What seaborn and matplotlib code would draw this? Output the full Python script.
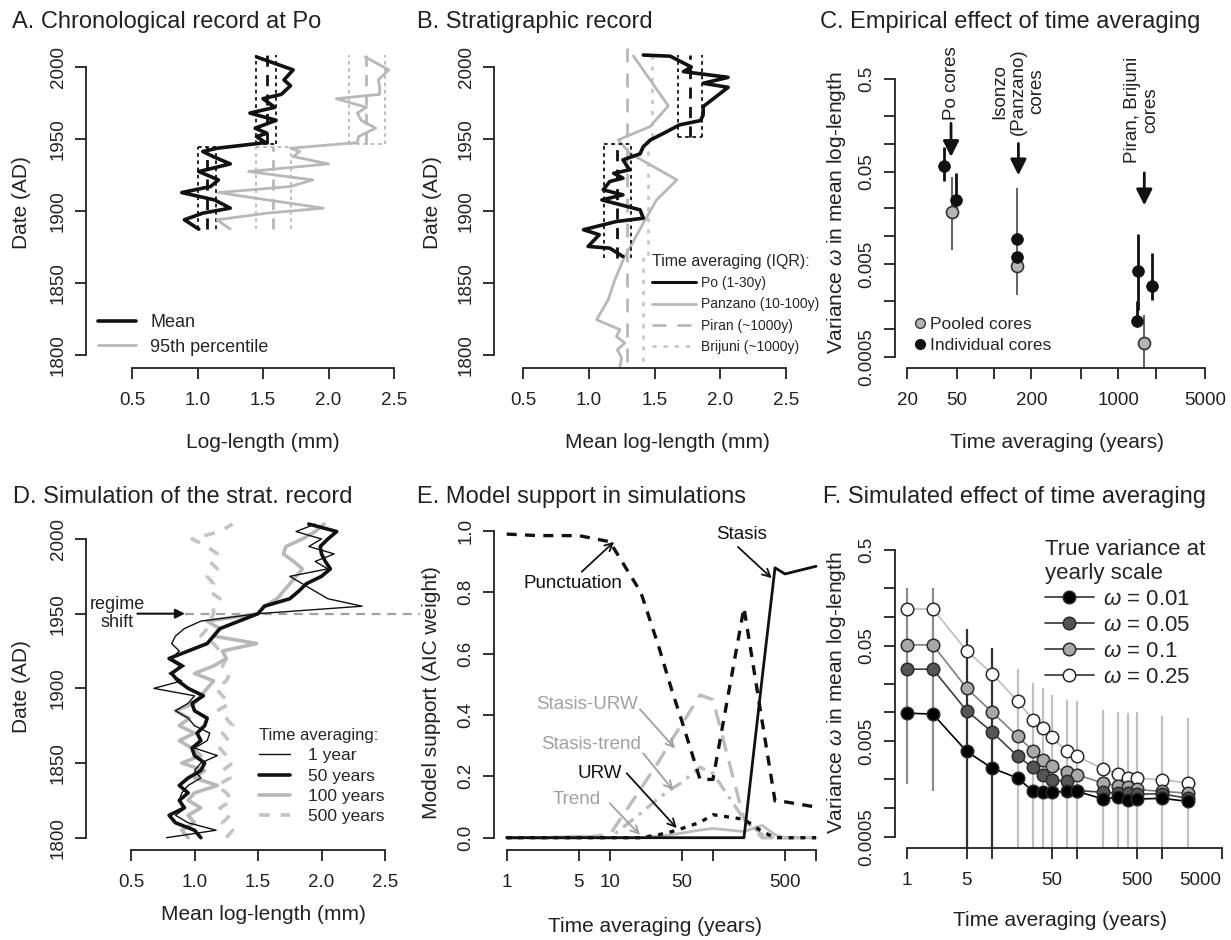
import numpy as np
import matplotlib
matplotlib.use("Agg")
import matplotlib.pyplot as plt
from matplotlib.lines import Line2D
from matplotlib.ticker import NullLocator
import seaborn as sns

# ---------------- data ----------------
# A. chronological record at Po (date vs log-length)
a_years = [2007, 1998, 1991, 1987, 1981, 1978, 1972, 1968, 1963, 1957.5, 1954, 1951.7, 1947.5,
           1943.6, 1941.3, 1937.8, 1932.7, 1927.4, 1921.6, 1917, 1912.8, 1907.7, 1902, 1898.5, 1893.9, 1887.4]
a_mean = [1.45, 1.73, 1.66, 1.71, 1.64, 1.50, 1.59, 1.40, 1.60, 1.44, 1.53, 1.45, 1.52,
          1.15, 1.04, 1.12, 1.25, 1.01, 1.16, 1.10, 0.88, 1.13, 1.25, 1.04, 0.90, 1.01]
a_p95 = [2.28, 2.46, 2.38, 2.39, 2.39, 2.06, 2.29, 2.22, 2.25, 2.36, 2.28, 2.23, 2.22,
         1.71, 1.78, 1.73, 2.00, 1.39, 1.88, 1.71, 1.16, 1.53, 1.96, 1.53, 1.15, 1.25]
a_regimes = [(1887.4, 1944.5), (1946.5, 2008)]
a_mean_iqr = [(1.00, 1.075, 1.14), (1.45, 1.53, 1.60)]
a_p95_iqr = [(1.45, 1.58, 1.71), (2.16, 2.29, 2.43)]

# B. stratigraphic record
b_po_years = [2008.3, 2007.5, 2000, 1996.8, 1992.8, 1988.7, 1985.9, 1972.5, 1966.7, 1962.8, 1959.8, 1954,
              1949.4, 1944.7, 1939.7, 1935.5, 1928.6, 1926.2, 1922.8, 1920.5, 1914.7, 1911.2, 1907.7,
              1900.8, 1895, 1892.7, 1887, 1883.5, 1875.4, 1874.2, 1868.4]
b_po_mean = [1.415, 1.62, 1.78, 1.72, 2.06, 1.87, 2.06, 1.87, 1.87, 1.85, 1.69, 1.57,
             1.47, 1.415, 1.39, 1.26, 1.31, 1.19, 1.26, 1.16, 1.11, 1.26, 1.10,
             1.39, 1.415, 1.21, 0.96, 1.08, 0.995, 1.16, 1.26]
b_pan_years = [2007.6, 1973, 1958.6, 1949.4, 1940.1, 1921.6, 1907.7, 1891.6, 1866.1, 1852.3, 1838.4,
               1824.5, 1817.6, 1812.9, 1808.3, 1803.7, 1797.9, 1792.1]
b_pan_mean = [1.34, 1.605, 1.466, 1.224, 1.313, 1.67, 1.516, 1.415, 1.262, 1.199, 1.148,
              1.06, 1.237, 1.21, 1.275, 1.217, 1.25, 1.237]
b_piran_years = [2013, 1792]
b_piran_mean = [1.29, 1.29]
b_brij_years = [2008, 1949, 1949, 1870, 1870, 1795]
b_brij_mean = [1.48, 1.48, 1.45, 1.45, 1.415, 1.415]
b_regimes = [(1867.3, 1946.4), (1951.7, 2008)]
b_po_iqr = [(1.117, 1.217, 1.318), (1.677, 1.77, 1.865)]

# C. empirical effect of time averaging
c_ind_x = [39.5, 49.4, 154, 154, 1432, 1420, 1868]
c_ind_y = [0.0575, 0.0245, 0.00925, 0.00595, 0.0042, 0.00123, 0.00289]
c_ind_lo = [0.040, 0.0207, np.nan, np.nan, 0.0016, 0.00123, 0.00206]
c_ind_hi = [0.092, 0.0488, np.nan, np.nan, 0.0107, 0.0020, 0.00664]
c_pool_x = [45.6, 154, 1622]
c_pool_y = [0.0181, 0.00475, 0.000703]
c_pool_lo = [0.00715, 0.00233, 0.0001]
c_pool_hi = [0.0438, 0.0335, 0.00141]

# D. simulation of the stratigraphic record
d_years = [1800, 1805, 1810, 1815, 1820, 1825, 1830, 1835, 1840, 1845, 1850, 1855, 1860, 1865,
           1870, 1875, 1880, 1885, 1890, 1895, 1900, 1905, 1910, 1915, 1920, 1925, 1930, 1935,
           1940, 1945, 1950, 1955, 1960, 1965, 1970, 1975, 1980, 1985, 1990, 1995, 2000, 2005, 2010]
d_1yr = [0.78, 1.17, 0.95, 0.85, 0.93, 0.88, 0.90, 0.95, 1.05, 1.00, 1.05, 1.18, 1.00, 1.10,
         1.12, 1.00, 0.95, 0.85, 0.95, 1.00, 0.68, 0.90, 0.80, 0.92, 0.82, 0.88, 0.82, 0.85,
         0.92, 1.05, 1.50, 2.32, 2.05, 1.95, 1.85, 1.75, 2.05, 1.95, 2.10, 1.90, 2.00, 1.80, 1.95]
d_50yr = [1.05, 1.00, 0.85, 0.80, 0.92, 0.88, 0.95, 0.88, 0.95, 1.05, 1.08, 1.00, 0.98, 1.05,
          1.02, 1.08, 1.10, 1.00, 0.98, 1.07, 0.95, 0.87, 0.82, 0.90, 0.80, 0.95, 1.10, 1.15,
          1.20, 1.35, 1.50, 1.55, 1.75, 1.82, 1.88, 2.00, 2.07, 2.03, 2.00, 1.99, 2.05, 2.12, 1.90]
d_100yr = [0.95, 0.90, 1.00, 0.95, 1.05, 0.95, 1.00, 1.18, 1.00, 1.08, 0.90, 1.05, 0.98, 0.88,
           1.00, 0.88, 0.96, 0.85, 1.00, 1.05, 1.10, 1.15, 1.00, 1.15, 1.25, 1.22, 1.49, 1.15,
           1.20, 1.10, 1.50, 1.55, 1.65, 1.70, 1.75, 1.80, 1.85, 1.78, 1.70, 1.72, 1.85, 1.95, 2.02]
d_500yr = [1.25, 1.30, 1.22, 1.28, 1.20, 1.30, 1.25, 1.18, 1.28, 1.22, 1.30, 1.25, 1.20, 1.27,
           1.22, 1.30, 1.25, 1.18, 1.28, 1.22, 1.17, 1.25, 1.28, 1.22, 1.25, 1.20, 1.15, 1.05,
           1.10, 1.12, 1.15, 1.15, 1.20, 1.12, 1.15, 1.10, 1.18, 1.12, 1.18, 1.10, 0.98, 1.20, 1.30]
d_shift_year = 1950

# E. model support in simulations
e_x = [1, 2, 5, 10, 20, 30, 40, 50, 75, 100, 200, 300, 400, 500, 1000]
e_punct = [0.99, 0.985, 0.985, 0.965, 0.80, 0.62, 0.48, 0.38, 0.19, 0.19, 0.75, 0.38, 0.12, 0.117, 0.10]
e_stasis = [0, 0, 0, 0, 0, 0, 0, 0, 0, 0, 0, 0.52, 0.88, 0.86, 0.885]
e_urw = [0, 0, 0, 0, 0, 0.01, 0.02, 0.03, 0.05, 0.075, 0.06, 0.02, 0, 0, 0]
e_stasis_urw = [0, 0, 0, 0.01, 0.16, 0.25, 0.32, 0.37, 0.465, 0.45, 0.06, 0.0, 0, 0, 0]
e_stasis_trend = [0, 0, 0, 0, 0.08, 0.13, 0.16, 0.18, 0.23, 0.21, 0.06, 0.01, 0, 0, 0]
e_trend = [0, 0, 0.005, 0, 0, 0.005, 0.01, 0.015, 0.025, 0.03, 0.02, 0.04, 0.01, 0, 0]

# F. simulated effect of time averaging
f_x = [1, 2, 5, 10, 20, 30, 40, 50, 75, 100, 200, 300, 400, 500, 1000, 2000]
f_w001 = [0.0098, 0.0096, 0.0039, 0.0026, 0.00205, 0.00149, 0.00146, 0.00146, 0.00149, 0.00149,
          0.00124, 0.0013, 0.00122, 0.00124, 0.00126, 0.00117]
f_w005 = [0.0283, 0.0283, 0.0104, 0.0062, 0.00346, 0.00265, 0.00222, 0.00197, 0.0019, 0.00152,
          0.00146, 0.00143, 0.00143, 0.0014, 0.0014, 0.00126]
f_w01 = [0.0508, 0.0508, 0.0179, 0.0100, 0.0056, 0.00396, 0.00319, 0.00276, 0.00237, 0.00222,
         0.00182, 0.00171, 0.00166, 0.00156, 0.00149, 0.00143]
f_w025 = [0.120, 0.121, 0.044, 0.0253, 0.0130, 0.00836, 0.00684, 0.00546, 0.00396, 0.00346,
          0.00257, 0.00228, 0.00205, 0.00205, 0.00197, 0.00182]
f_hi = [0.199, 0.199, 0.0742, 0.0469, 0.0283, 0.0202, 0.0179, 0.0152, 0.0135, 0.0132,
        0.0106, 0.0102, 0.0098, 0.0100, 0.0091, 0.0088]
f_lo = [0.00177, 0.00149, 1e-6, 1e-6, 1e-6, 1e-6, 1e-6, 1e-6, 1e-6, 1e-6,
        1e-6, 1e-6, 1e-6, 1e-6, 1e-6, 1e-6]
f_labels = ["0.01", "0.05", "0.1", "0.25"]

# ---------------- style ----------------
sns.set_theme(style="ticks")
plt.rcParams["font.family"] = ["Liberation Sans", "DejaVu Sans"]
plt.rcParams["mathtext.fontset"] = "custom"
plt.rcParams["mathtext.it"] = "Liberation Sans:italic"
plt.rcParams["mathtext.rm"] = "Liberation Sans"

BLACK = "#111111"
GRAY = "#b8b8b8"
TICK = 13.5
LAB = 15
TITLE = 17

W, H = 1231, 940
fig = plt.figure(figsize=(W / 100, H / 100), dpi=100)


def to_val(cal, p, log):
    p0, v0, p1, v1 = cal
    if log:
        v0, v1 = np.log10(v0), np.log10(v1)
    v = v0 + (p - p0) * (v1 - v0) / (p1 - p0)
    return 10 ** v if log else v


def panel(box, xcal, ycal, xlog=False, ylog=False):
    l, t, r, b = box
    ax = fig.add_axes([l / W, 1 - b / H, (r - l) / W, (b - t) / H])
    ax.patch.set_alpha(0)
    if xlog:
        ax.set_xscale("log")
    if ylog:
        ax.set_yscale("log")
    ax.set_xlim(to_val(xcal, l, xlog), to_val(xcal, r, xlog))
    ax.set_ylim(to_val(ycal, b, ylog), to_val(ycal, t, ylog))
    sns.despine(ax=ax)
    return ax


def axis_style(ax, xt, xl, yt, yl):
    ax.set_xticks(xt)
    ax.set_xticklabels(xl)
    ax.set_yticks(yt)
    ax.set_yticklabels(yl)
    ax.xaxis.set_minor_locator(NullLocator())
    ax.yaxis.set_minor_locator(NullLocator())
    ax.spines["bottom"].set_bounds(xt[0], xt[-1])
    ax.spines["left"].set_bounds(yt[0], yt[-1])
    for s in ("left", "bottom"):
        ax.spines[s].set_linewidth(1.3)
        ax.spines[s].set_color("#222222")
    ax.tick_params(axis="both", direction="out", length=8, width=1.3, labelsize=TICK,
                   color="#222222", labelcolor="#222222")
    ax.tick_params(axis="x", pad=9.5)
    ax.tick_params(axis="y", pad=6, labelrotation=90)
    for lab in ax.get_yticklabels():
        lab.set_va("center")


def ftext(x, y, s, **kw):
    kw.setdefault("color", "#222222")
    fig.text(x / W, 1 - y / H, s, **kw)


def labels(title, tpos, xlab, xpos, ylab, ypos):
    ftext(tpos[0], tpos[1], title, fontsize=TITLE, ha="left", va="center")
    ftext(xpos[0], xpos[1], xlab, fontsize=LAB, ha="center", va="center")
    ftext(ypos[0], ypos[1], ylab, fontsize=LAB, ha="center", va="center", rotation=90)


def iqr_boxes(ax, regimes, iqrs, color):
    for i, ((y0, y1), (q1, med, q3)) in enumerate(zip(regimes, iqrs)):
        ax.vlines([q1, q3], y0, y1, colors=color, linestyles=(0, (2, 2)), lw=1.3)
        ax.vlines(med, y0, y1, colors=color, linestyles=(0, (4, 3)), lw=2)
        yh = y1 if i == 0 else y0
        ax.hlines(yh, q1, q3, colors=color, linestyles=(0, (2, 2)), lw=1.3)


date_ticks = [1800, 1850, 1900, 1950, 2000]
len_ticks = [0.5, 1.0, 1.5, 2.0, 2.5]
len_labels = ["0.5", "1.0", "1.5", "2.0", "2.5"]
var_ticks = [0.0005, 0.001, 0.002, 0.005, 0.01, 0.02, 0.05, 0.1, 0.2, 0.5]
var_labels = ["0.0005", "", "", "0.005", "", "", "0.05", "", "", "0.5"]

# ---------------- A ----------------
axA = panel((86, 40, 410, 368), (132, 0.5, 394, 2.5), (355, 1800, 67, 2000))
iqr_boxes(axA, a_regimes, a_mean_iqr, BLACK)
iqr_boxes(axA, a_regimes, a_p95_iqr, GRAY)
sns.lineplot(x=a_p95, y=a_years, orient="y", estimator=None, color=GRAY, lw=2, ax=axA)
sns.lineplot(x=a_mean, y=a_years, orient="y", estimator=None, color=BLACK, lw=2.6, ax=axA)
axis_style(axA, len_ticks, len_labels, date_ticks, [str(t) for t in date_ticks])
axA.legend(handles=[Line2D([], [], color=BLACK, lw=2.6), Line2D([], [], color=GRAY, lw=2)],
           labels=["Mean", "95th percentile"], loc="center left", frameon=False,
           bbox_to_anchor=(98 / W, 1 - 335 / H), bbox_transform=fig.transFigure,
           fontsize=13, handlelength=2.1, handletextpad=0.8, labelspacing=0.4,
           borderpad=0, borderaxespad=0)
labels("A. Chronological record at Po", (12, 22), "Log-length (mm)", (263, 443), "Date (AD)", (22, 203))

# ---------------- B ----------------
axB = panel((494, 40, 800, 368), (523, 0.5, 786, 2.5), (355, 1800, 67, 2000))
sns.lineplot(x=b_piran_mean, y=b_piran_years, orient="y", estimator=None, sort=False,
             color=GRAY, lw=2, linestyle=(0, (5, 4)), ax=axB)
sns.lineplot(x=b_brij_mean, y=b_brij_years, orient="y", estimator=None, sort=False,
             color="#c8c8c8", lw=2, linestyle=(0, (1.5, 2.5)), ax=axB)
sns.lineplot(x=b_pan_mean, y=b_pan_years, orient="y", estimator=None, color=GRAY, lw=2, ax=axB)
iqr_boxes(axB, b_regimes, b_po_iqr, BLACK)
sns.lineplot(x=b_po_mean, y=b_po_years, orient="y", estimator=None, color=BLACK, lw=2.6, ax=axB)
axis_style(axB, len_ticks, len_labels, date_ticks, [str(t) for t in date_ticks])
axB.legend(handles=[Line2D([], [], color=BLACK, lw=2.2),
                    Line2D([], [], color=GRAY, lw=2),
                    Line2D([], [], color=GRAY, lw=2, linestyle=(0, (5, 4))),
                    Line2D([], [], color="#c8c8c8", lw=2, linestyle=(0, (1.5, 2.5)))],
           labels=["Po (1-30y)", "Panzano (10-100y)", "Piran (~1000y)", "Brijuni (~1000y)"],
           title="Time averaging (IQR):", title_fontsize=11.5, fontsize=10, alignment="left",
           loc="upper left", frameon=False, bbox_to_anchor=(652 / W, 1 - 254 / H),
           bbox_transform=fig.transFigure, handlelength=3.2, handletextpad=0.3,
           labelspacing=0.52, borderpad=0, borderaxespad=0)
labels("B. Stratigraphic record", (417, 22), "Mean log-length (mm)", (667, 443), "Date (AD)", (433, 203))

# ---------------- C ----------------
axC = panel((895, 40, 1215, 368), (907.3, 20, 1205, 5000), (356.7, 0.0005, 79, 0.5), xlog=True, ylog=True)
axC.vlines(c_pool_x, c_pool_lo, c_pool_hi, colors="#555555", lw=1.3)
axC.vlines(c_ind_x, c_ind_lo, c_ind_hi, colors=BLACK, lw=2)
sns.scatterplot(x=c_pool_x, y=c_pool_y, color="#b5b5b5", edgecolor="#333333", linewidth=1.2,
                s=75, zorder=3, ax=axC)
sns.scatterplot(x=c_ind_x, y=c_ind_y, color=BLACK, edgecolor=BLACK, s=70, zorder=4, ax=axC)
arrow_kw = dict(arrowstyle="-|>", color=BLACK, lw=2, mutation_scale=24, shrinkA=0, shrinkB=0)
for (tx, ty, txt, ay0, ay1, ax_) in [(45.5, 0.449, "Po cores", 0.166, 0.072, 45),
                                      (157, 0.365, "Isonzo\n(Panzano)\ncores", 0.1005, 0.0456, 157),
                                      (1552, 0.231, "Piran, Brijuni\ncores", 0.0484, 0.0216, 1622)]:
    axC.text(tx, ty, txt, rotation=90, ha="center", va="center", multialignment="center",
             fontsize=13.5, color="#222222", clip_on=False, linespacing=1.1)
    axC.annotate("", xy=(ax_, ay1), xytext=(ax_, ay0), arrowprops=arrow_kw, annotation_clip=False)
axis_style(axC, [20, 50, 100, 200, 500, 1000, 2000, 5000],
           ["20", "50", "", "200", "", "1000", "", "5000"], var_ticks, var_labels)
axC.legend(handles=[Line2D([], [], ls="", marker="o", ms=7, mfc="#b5b5b5", mec="#333333", mew=1),
                    Line2D([], [], ls="", marker="o", ms=7, mfc=BLACK, mec=BLACK)],
           labels=["Pooled cores", "Individual cores"], loc="center left", frameon=False,
           bbox_to_anchor=(913 / W, 1 - 335 / H), bbox_transform=fig.transFigure,
           fontsize=12.5, handlelength=0.8, handletextpad=0.2, labelspacing=0.3,
           borderpad=0, borderaxespad=0)
labels("C. Empirical effect of time averaging", (820, 22), "Time averaging (years)", (1057, 443),
       r"Variance $\omega$ in mean log-length", (837, 213))

# ---------------- D ----------------
axD = panel((86, 505, 420, 850), (131, 0.5, 385, 2.5), (837.7, 1800, 539, 2000))
axD.axhline(d_shift_year, xmin=(0.925 - axD.get_xlim()[0]) / np.diff(axD.get_xlim())[0],
            color="#a0a0a0", lw=1.6, linestyle=(0, (4, 3)))
sns.lineplot(x=d_500yr, y=d_years, orient="y", estimator=None, color="#c4c4c4", lw=2.6,
             linestyle=(0, (3, 3)), ax=axD)
sns.lineplot(x=d_100yr, y=d_years, orient="y", estimator=None, color=GRAY, lw=2.6, ax=axD)
sns.lineplot(x=d_1yr, y=d_years, orient="y", estimator=None, color=BLACK, lw=1.0, ax=axD)
sns.lineplot(x=d_50yr, y=d_years, orient="y", estimator=None, color=BLACK, lw=2.6, ax=axD)
axD.text(0.39, d_shift_year, "regime\nshift", ha="center", va="center", fontsize=13,
         color="#222222", linespacing=1.05)
axD.annotate("", xy=(0.925, d_shift_year), xytext=(0.55, d_shift_year),
             arrowprops=dict(arrowstyle="-|>", color=BLACK, lw=1.5, mutation_scale=14,
                             shrinkA=0, shrinkB=0))
axis_style(axD, len_ticks, len_labels, date_ticks, [str(t) for t in date_ticks])
axD.legend(handles=[Line2D([], [], color=BLACK, lw=1.0), Line2D([], [], color=BLACK, lw=2.6),
                    Line2D([], [], color=GRAY, lw=2.6),
                    Line2D([], [], color="#c4c4c4", lw=2.6, linestyle=(0, (3, 3)))],
           labels=["1 year", "50 years", "100 years", "500 years"], title="Time averaging:",
           title_fontsize=12, fontsize=12.5, alignment="left", loc="upper left", frameon=False,
           bbox_to_anchor=(259 / W, 1 - 728 / H), bbox_transform=fig.transFigure,
           handlelength=1.8, handletextpad=1.0, labelspacing=0.3, borderpad=0, borderaxespad=0)
labels("D. Simulation of the strat. record", (13, 497), "Mean log-length (mm)", (263, 915),
       "Date (AD)", (22, 687))

# ---------------- E ----------------
axE = panel((494, 505, 818, 850), (506.7, 1, 785, 500), (837.7, 0.0, 531, 1.0), xlog=True)
LG = "#bdbdbd"
sns.lineplot(x=e_x, y=e_trend, color=LG, lw=2, ax=axE)
sns.lineplot(x=e_x, y=e_stasis_trend, color=LG, lw=2.4, linestyle=(0, (4, 2, 1, 2)), ax=axE)
sns.lineplot(x=e_x, y=e_stasis_urw, color=LG, lw=2.4, linestyle=(0, (5, 3)), ax=axE)
sns.lineplot(x=e_x, y=e_stasis, color=BLACK, lw=2, ax=axE)
sns.lineplot(x=e_x, y=e_urw, color=BLACK, lw=2.4, linestyle=(0, (1.5, 2)), ax=axE)
sns.lineplot(x=e_x, y=e_punct, color=BLACK, lw=2.4, linestyle=(0, (3, 2.5)), ax=axE)
notes = [("Stasis", BLACK, (191, 0.99), (175, 0.948), (372, 0.846)),
         ("Punctuation", BLACK, (4.4, 0.83), (5.34, 0.867), (11.0, 0.965)),
         ("Stasis-URW", "#a0a0a0", (5.97, 0.433), (19.6, 0.419), (42.9, 0.291)),
         ("Stasis-trend", "#a0a0a0", (6.57, 0.305), (21.1, 0.275), (41.1, 0.155)),
         ("URW", BLACK, (8.03, 0.21), (14.6, 0.21), (44.6, 0.031)),
         ("Trend", "#a0a0a0", (4.77, 0.125), (10.0, 0.112), (19.6, 0.009))]
for txt, col, tp, a0, a1 in notes:
    axE.text(tp[0], tp[1], txt, ha="center", va="center", fontsize=13.5, color=col)
    axE.annotate("", xy=a1, xytext=a0,
                 arrowprops=dict(arrowstyle="->", color=col, lw=1.3, mutation_scale=14,
                                 shrinkA=0, shrinkB=0))
axis_style(axE, [1, 5, 10, 50, 100, 500, 1000], ["1", "5", "10", "50", "", "500", ""],
           [0, 0.2, 0.4, 0.6, 0.8, 1.0], ["0.0", "0.2", "0.4", "0.6", "0.8", "1.0"])
labels("E. Model support in simulations", (417, 497), "Time averaging (years)", (655, 926),
       "Model support (AIC weight)", (432, 693))

# ---------------- F ----------------
axF = panel((895, 505, 1225, 848), (907.3, 1, 1221.7, 5000), (836.7, 0.0005, 550, 0.5),
            xlog=True, ylog=True)
bar_cols = ["#8c8c8c", "#8c8c8c", "#333333", "#333333"] + ["#c0c0c0"] * 12
axF.vlines(f_x, f_lo, f_hi, colors=bar_cols, lw=1.6)
f_series = [f_w025, f_w01, f_w005, f_w001]
f_line_cols = ["#bdbdbd", "#808080", "#404040", "#000000"]
f_face_cols = ["#ffffff", "#a8a8a8", "#555555", "#000000"]
for vals, lc, fc in zip(f_series, f_line_cols, f_face_cols):
    sns.lineplot(x=f_x, y=vals, color=lc, lw=1.2, marker="o", markersize=9,
                 markerfacecolor=fc, markeredgecolor="#2a2a2a", markeredgewidth=1.1, ax=axF)
axis_style(axF, [1, 5, 10, 50, 100, 500, 1000, 5000], ["1", "5", "", "50", "", "500", "", "5000"],
           var_ticks, var_labels)
# last label sits flush with the right edge, as in the original
axF.get_xticklabels()[-1].set_ha("right")
axF.legend(handles=[Line2D([], [], color="#333333", lw=1.2, marker="o", ms=9, mfc=fc,
                           mec="#2a2a2a", mew=1.1) for fc in f_face_cols[::-1]],
           labels=[r"$\omega$ = " + s for s in f_labels],
           title="True variance at\nyearly scale", title_fontsize=16, fontsize=16,
           alignment="left", loc="upper left", frameon=False,
           bbox_to_anchor=(1045 / W, 1 - 539 / H), bbox_transform=fig.transFigure,
           handlelength=2.2, handletextpad=0.4, labelspacing=0.22, borderpad=0, borderaxespad=0)
labels("F. Simulated effect of time averaging", (823, 497), "Time averaging (years)", (1060, 920),
       r"Variance $\omega$ in mean log-length", (837, 693))

fig.savefig("out.png", dpi=100)
